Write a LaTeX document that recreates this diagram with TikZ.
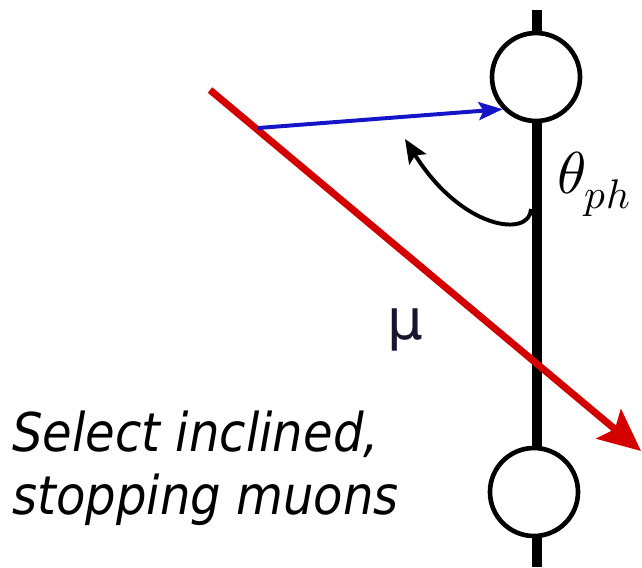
\documentclass[tikz,border=0pt]{standalone}
\usepackage{fontspec}
\usepackage{unicode-math}
\setmathfont{Latin Modern Math}
\setsansfont{DejaVu Sans}
\usepackage{tikz}
\usetikzlibrary{arrows.meta, positioning}
\definecolor{muonred}{HTML}{D40000}
\definecolor{photonblue}{HTML}{1414C8}
\definecolor{labelnavy}{HTML}{161630}

\begin{document}
\begin{tikzpicture}[x=0.025cm, y=-0.025cm,
      pmt/.style={draw, circle, fill=white, line width=3.3pt, minimum size=2.2cm, inner sep=0pt},
      rod/.style={line width=6.5pt},
      muon/.style={muonred, line width=5pt, -{Stealth[length=1.05cm, width=0.95cm, inset=0.2cm]}},
      photon/.style={photonblue, line width=2.8pt, -{Stealth[length=0.6cm, width=0.45cm, inset=0.12cm]}},
      angle/.style={line width=2.8pt, -{Stealth[length=0.6cm, width=0.5cm, inset=0.12cm]}}]
    \useasboundingbox (0,0) rectangle (642,567);
    % rod and the two photomultipliers
    \coordinate (rodtop) at (537,10);
    \coordinate (rodbot) at (537,567);
    \draw[rod] (rodtop) -- (rodbot);
    \node[pmt] (pmtTop) at (536,77) {};
    \node[pmt] (pmtBot) at (534,492) {};
    % muon track and emitted photon
    \coordinate (muIn) at (210,90);
    \coordinate (muOut) at (641,451);
    \coordinate (emit) at (258,128);
    \draw[muon] (muIn) -- (muOut);
    \draw[photon] (emit) -- (pmtTop.224);
    % angle to the rod
    \coordinate (angA) at (531,209);
    \coordinate (angB) at (405,139);
    \draw[angle] (angA) .. controls (530,238) and (462,230) .. (angB);
    \node[font=\fontsize{42}{42}\selectfont] (theta) at (594,184) {$\theta_{ph}$};
    \node[font=\sffamily\fontsize{40}{40}\selectfont, text=labelnavy] (mu) at (405,330) {μ};
    \node[font=\sffamily\itshape\fontsize{38}{40}\selectfont, align=left, anchor=north west, inner sep=0pt] (caption) at (12,411) {\scalebox{0.9}[1]{Select inclined,}\\[0.15cm]\scalebox{0.9}[1]{stopping muons}};
  \end{tikzpicture}
\end{document}
